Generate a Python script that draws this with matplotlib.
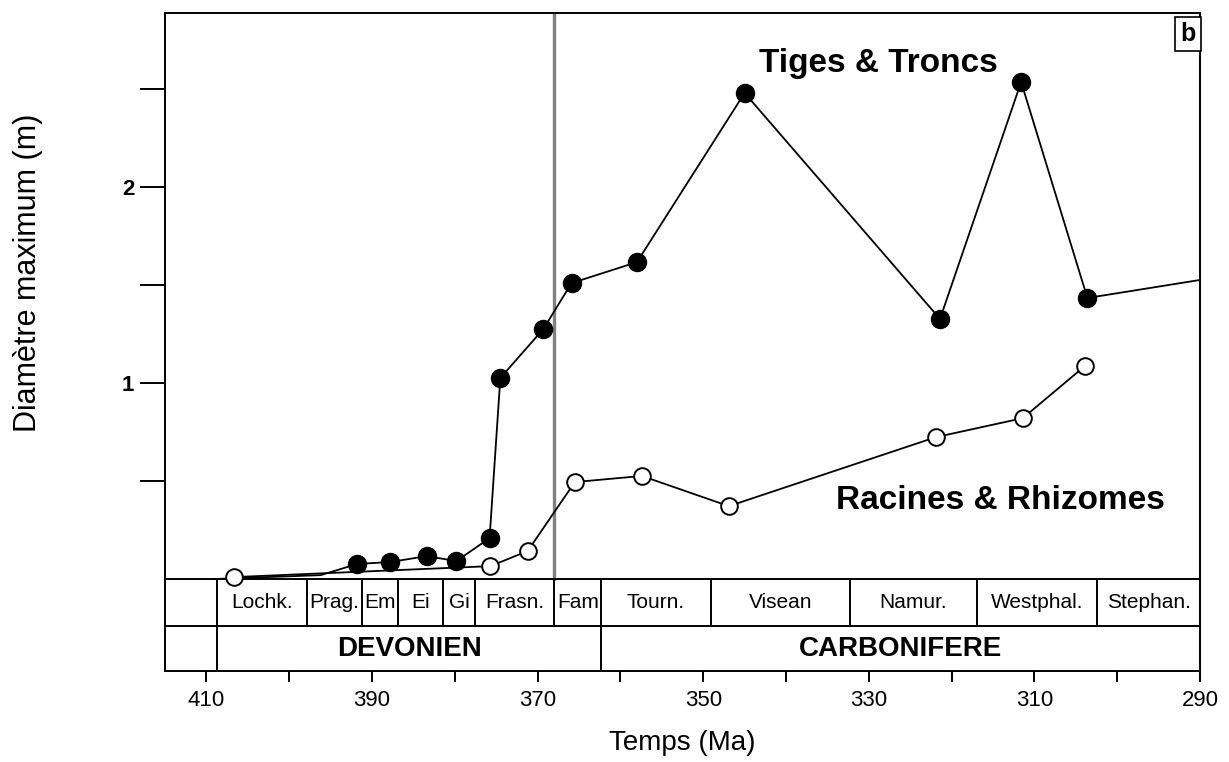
import matplotlib
matplotlib.use("Agg")
import matplotlib.pyplot as plt
from matplotlib.ticker import FixedLocator, NullFormatter

plt.rcParams['font.family'] = ['Liberation Sans', 'DejaVu Sans']

# Tiges & Troncs (filled circles); the first two and the last vertex carry no marker
tiges_age = [409.3, 396.2, 391.8, 387.8, 383.4, 379.8, 375.8, 374.5, 369.3, 365.9, 358.0,
             345.0, 321.4, 311.6, 303.6, 290.0]
tiges_diam = [0.0, 0.02, 0.077, 0.087, 0.117, 0.092, 0.209, 1.026, 1.276, 1.51, 1.617,
              2.48, 1.327, 2.536, 1.434, 1.526]

# Racines & Rhizomes (open circles)
racines_age = [406.7, 375.7, 371.2, 365.5, 357.4, 346.9, 321.9, 311.4, 303.9]
racines_diam = [0.01, 0.066, 0.143, 0.495, 0.526, 0.372, 0.724, 0.821, 1.087]

# stratigraphy
stage_names = ['Lochk.', 'Prag.', 'Em', 'Ei', 'Gi', 'Frasn.', 'Fam', 'Tourn.', 'Visean',
               'Namur.', 'Westphal.', 'Stephan.']
stage_bounds = [408.7, 397.9, 391.2, 386.9, 381.4, 377.6, 368.0, 362.3, 349.1, 332.3,
                316.9, 302.4, 290.0]
period_names = ['DEVONIEN', 'CARBONIFERE']
period_bounds = [408.7, 362.3, 290.0]
frasn_fam = 368.0

x_major = [410, 390, 370, 350, 330, 310, 290]
x_minor = [400, 380, 360, 340, 320, 300]
y_ticks = [0.5, 1, 1.5, 2, 2.5]
y_labels = ['', '1', '', '2', '']

XMIN, XMAX = 415.0, 290.0
YTOP = 2.888
ROW1 = -0.240   # stage row bottom
ROW2 = -0.469   # period row bottom

fig = plt.figure(figsize=(12.29, 7.62), dpi=100)
W, H = 1229, 762
ax = fig.add_axes([165 / W, 1 - 671 / H, (1200 - 165) / W, (671 - 13) / H])
ax.set_xlim(XMIN, XMAX)
ax.set_ylim(ROW2, YTOP)

for s in ax.spines.values():
    s.set_linewidth(1.4)

# gray Frasnian/Famennian line
ax.plot([frasn_fam, frasn_fam], [0, YTOP], color='#808080', lw=2.4, zorder=1)

# table lines
ax.axhline(0, color='black', lw=1.4, zorder=2)
ax.axhline(ROW1, color='black', lw=1.4, zorder=2)
for b in stage_bounds[:-1]:
    ax.plot([b, b], [ROW1, 0], color='black', lw=1.4)
for b in period_bounds[:-1]:
    ax.plot([b, b], [ROW2, ROW1], color='black', lw=1.4)

for i, name in enumerate(stage_names):
    xc = (stage_bounds[i] + stage_bounds[i + 1]) / 2
    ax.text(xc, ROW1 / 2, name, ha='center', va='center', fontsize=15)
for i, name in enumerate(period_names):
    xc = (period_bounds[i] + period_bounds[i + 1]) / 2
    ax.text(xc, (ROW1 + ROW2) / 2, name, ha='center', va='center', fontsize=20,
            fontweight='bold')

# data
ax.plot(tiges_age, tiges_diam, color='black', lw=1.3, marker='o', ms=13,
        mfc='black', mec='black', markevery=list(range(2, len(tiges_age) - 1)),
        zorder=4, clip_on=False)
ax.plot(racines_age, racines_diam, color='black', lw=1.3, marker='o', ms=12,
        mfc='white', mec='black', mew=1.4, zorder=4, clip_on=False)

ax.text(328.9, 2.63, 'Tiges & Troncs', ha='center', va='center', fontsize=24,
        fontweight='bold')
ax.text(314.1, 0.40, 'Racines & Rhizomes', ha='center', va='center', fontsize=24,
        fontweight='bold')

# panel letter
ax.text(0.9885, 0.986, 'b', transform=ax.transAxes, ha='center', va='top',
        fontsize=18, fontweight='bold',
        bbox=dict(boxstyle='square,pad=0.2', fc='white', ec='black', lw=1.2))

# axes ticks
ax.yaxis.set_major_locator(FixedLocator(y_ticks))
ax.set_yticklabels(y_labels, fontsize=16, fontweight='bold')
ax.tick_params(axis='y', direction='out', length=18, width=1.4, pad=4)

ax.xaxis.set_major_locator(FixedLocator(x_major))
ax.xaxis.set_minor_locator(FixedLocator(x_minor))
ax.xaxis.set_minor_formatter(NullFormatter())
ax.set_xticklabels([str(v) for v in x_major], fontsize=16)
ax.tick_params(axis='x', which='both', direction='out', length=8, width=1.4, pad=6)

ax.set_xlabel('Temps (Ma)', fontsize=20)
ax.xaxis.set_label_coords(0.5, -0.09)
ax.set_ylabel('Diamètre maximum (m)', fontsize=22)
ax.yaxis.set_label_coords(-0.118, 0.605)

fig.savefig('out.png', dpi=100)
